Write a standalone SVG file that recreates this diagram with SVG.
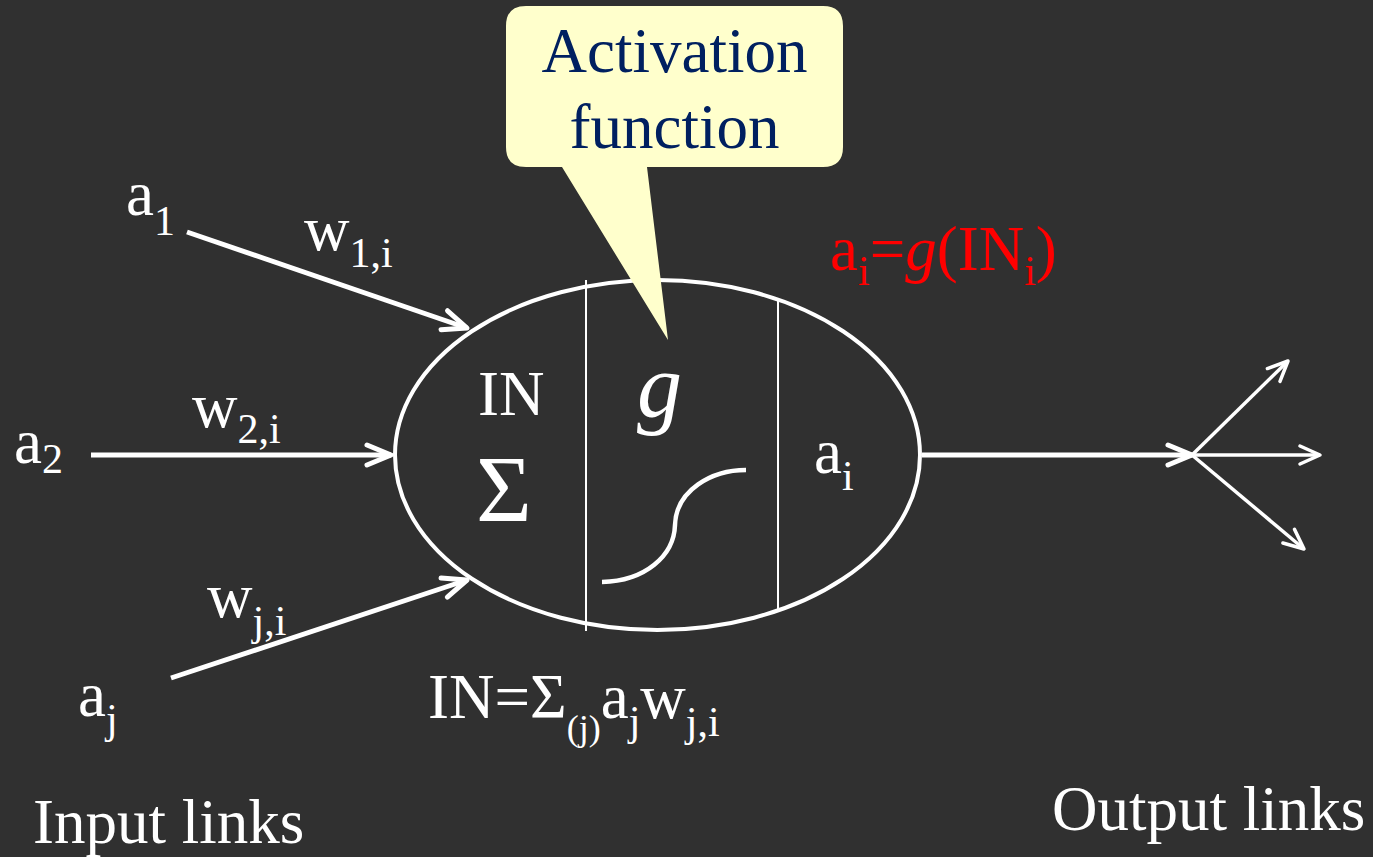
<svg xmlns="http://www.w3.org/2000/svg" width="1373" height="857" viewBox="0 0 1373 857" font-family="Liberation Serif, DejaVu Serif, serif">
<style>
text{font-family:'Liberation Serif','DejaVu Serif','Noto Serif',serif;fill:#fff;font-size:63px}
.sub{font-size:42px}
.red{fill:#f00}
.navy{fill:#002060}
.ln{stroke:#fff;fill:none;stroke-linecap:butt}
</style>
<defs>
<marker id="ah" markerUnits="userSpaceOnUse" viewBox="-30 -15 34 30" refX="0" refY="0" markerWidth="34" markerHeight="30" orient="auto">
<path d="M-24,-10 L0,0 L-24,10" fill="none" stroke="#fff" stroke-width="5" stroke-linecap="round" stroke-linejoin="round"/>
</marker>
<marker id="ahs" markerUnits="userSpaceOnUse" viewBox="-26 -13 30 26" refX="0" refY="0" markerWidth="30" markerHeight="26" orient="auto">
<path d="M-20,-9 L0,0 L-20,9" fill="none" stroke="#fff" stroke-width="3.5" stroke-linecap="round" stroke-linejoin="round"/>
</marker>
</defs>
<rect width="1373" height="857" fill="#303030"/>

<g id="connectors">
<line class="ln" x1="187" y1="232" x2="467" y2="328" stroke-width="5" marker-end="url(#ah)"/>
<line class="ln" x1="91" y1="455" x2="391" y2="455" stroke-width="5" marker-end="url(#ah)"/>
<line class="ln" x1="171" y1="678" x2="467" y2="580" stroke-width="5" marker-end="url(#ah)"/>
<line class="ln" x1="922" y1="455" x2="1192" y2="455" stroke-width="5" marker-end="url(#ah)"/>
<line class="ln" x1="1192" y1="455" x2="1288" y2="361" stroke-width="3.5" marker-end="url(#ahs)"/>
<line class="ln" x1="1192" y1="455" x2="1320" y2="455" stroke-width="3.5" marker-end="url(#ahs)"/>
<line class="ln" x1="1192" y1="455" x2="1304" y2="549" stroke-width="3.5" marker-end="url(#ahs)"/>
</g>

<g id="neuron">
<ellipse cx="657.5" cy="455" rx="262.5" ry="175" fill="none" stroke="#fff" stroke-width="4"/>
<line x1="586" y1="280" x2="586" y2="631" stroke="#fff" stroke-width="2"/>
<line x1="778" y1="300" x2="778" y2="610" stroke="#fff" stroke-width="2"/>
<text x="478" y="415">IN</text>
<text x="476" y="522" style="font-size:96px">Σ</text>
<text x="637" y="417" style="font-size:90px;font-style:italic">g</text>
<path d="M602,582 C645,581 674,556 675,525 C676,490 712,470 746,470" fill="none" stroke="#fff" stroke-width="4.5"/>
<text x="814" y="473">a<tspan class="sub" dy="17">i</tspan></text>
</g>

<g id="callout">
<path d="M526,6 H823 Q843,6 843,26 V147 Q843,167 823,167 H647 L668,340 L562,167 H526 Q506,167 506,147 V26 Q506,6 526,6 Z" fill="#ffffcc"/>
<text class="navy" x="674.5" y="72" text-anchor="middle">Activation</text>
<text class="navy" x="674.5" y="148" text-anchor="middle">function</text>
</g>

<g id="labels">
<text x="126" y="215">a<tspan class="sub" dy="20">1</tspan></text>
<text x="304" y="250">w<tspan class="sub" dy="17">1,i</tspan></text>
<text x="14" y="463">a<tspan class="sub" dy="10">2</tspan></text>
<text x="192" y="427">w<tspan class="sub" dy="16">2,i</tspan></text>
<text x="207" y="617">w<tspan class="sub" dy="18">j,i</tspan></text>
<text x="78" y="716">a<tspan class="sub" dy="17">j</tspan></text>
<text class="red" x="830" y="270">a<tspan class="sub" dy="15">i</tspan><tspan dy="-15">=</tspan><tspan style="font-style:italic">g</tspan>(IN<tspan class="sub" dy="15">i</tspan><tspan dy="-15">)</tspan></text>
<text x="428" y="718">IN=Σ<tspan dy="22" style="font-size:36px">(j)</tspan><tspan dy="-22">a</tspan><tspan class="sub" dy="17">j</tspan><tspan dy="-17">w</tspan><tspan class="sub" dy="18">j,i</tspan></text>
<text x="33" y="843">Input links</text>
<text x="1052" y="830">Output links</text>
</g>
</svg>
